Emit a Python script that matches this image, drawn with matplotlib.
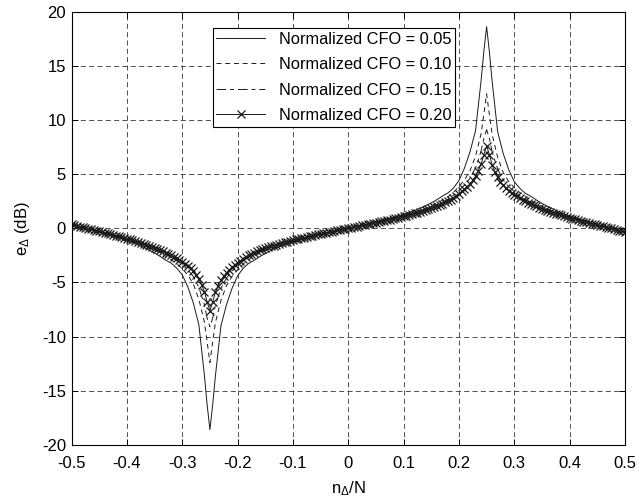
import numpy as np
import matplotlib.pyplot as plt

plt.rcParams['font.family'] = ['Liberation Sans', 'DejaVu Sans']
plt.rcParams['mathtext.fontset'] = 'custom'
plt.rcParams['mathtext.rm'] = 'Liberation Sans'
plt.rcParams['mathtext.it'] = 'Liberation Sans:italic'
plt.rcParams['axes.unicode_minus'] = False

# eje x: n_delta / N (paso 0.01, con puntos extra junto a los picos)
n_delta = np.concatenate([np.arange(-50, -25), [-25.5, -25, -24.5], np.arange(-24, 25),
                          [24.5, 25, 25.5], np.arange(26, 51)]) / 100
# la curva con marcadores tiene muestras mas densas (paso 0.005)
n_delta_fino = np.arange(-100, 101) / 200

# e_delta (dB), uno por CFO normalizado
cfo_005 = [0.35, 0.21, 0.06, -0.07, -0.21, -0.35, -0.50, -0.65, -0.80, -0.97, -1.14, -1.33, -1.54,
           -1.77, -2.02, -2.29, -2.60, -2.95, -3.22, -3.68, -4.30, -5.40, -6.90, -8.90, -13.55,
           -16.30, -18.60, -16.30,
           -13.60, -9.00, -7.05, -5.55, -4.40, -3.70, -3.25, -2.96, -2.63, -2.34, -2.08, -1.85,
           -1.64, -1.45, -1.28, -1.13, -0.98, -0.84, -0.71, -0.58, -0.47, -0.34, -0.23, -0.11,
           0.00, 0.11, 0.23, 0.34, 0.47, 0.58, 0.71, 0.84, 0.98, 1.13, 1.28, 1.45, 1.64, 1.85,
           2.08, 2.34, 2.63, 2.96, 3.25, 3.70, 4.40, 5.55, 7.05, 9.00, 13.60,
           16.30, 18.60, 16.30,
           13.55, 8.90, 6.90, 5.40, 4.30, 3.68, 3.22, 2.95, 2.60, 2.29, 2.02, 1.77, 1.54, 1.33,
           1.14, 0.97, 0.80, 0.65, 0.50, 0.35, 0.21, 0.07, -0.06, -0.21, -0.35]

cfo_010 = [0.35, 0.22, 0.07, -0.05, -0.18, -0.32, -0.45, -0.59, -0.73, -0.88, -1.03, -1.20, -1.38,
           -1.58, -1.79, -2.02, -2.28, -2.57, -2.90, -3.28, -3.75, -4.30, -5.15, -6.55, -8.65,
           -10.50, -12.40, -10.50,
           -8.70, -6.65, -5.30, -4.45, -3.85, -3.30, -2.90, -2.58, -2.31, -2.07, -1.85, -1.66,
           -1.48, -1.32, -1.17, -1.04, -0.91, -0.78, -0.66, -0.55, -0.44, -0.32, -0.22, -0.10,
           0.00, 0.10, 0.22, 0.32, 0.44, 0.55, 0.66, 0.78, 0.91, 1.04, 1.17, 1.32, 1.48, 1.66,
           1.85, 2.07, 2.31, 2.58, 2.90, 3.30, 3.85, 4.45, 5.30, 6.65, 8.70,
           10.50, 12.40, 10.50,
           8.65, 6.55, 5.15, 4.30, 3.75, 3.28, 2.90, 2.57, 2.28, 2.02, 1.79, 1.58, 1.38, 1.20,
           1.03, 0.88, 0.73, 0.59, 0.45, 0.32, 0.18, 0.05, -0.07, -0.22, -0.35]

cfo_015 = [0.35, 0.22, 0.08, -0.04, -0.17, -0.30, -0.43, -0.57, -0.70, -0.85, -0.99, -1.15, -1.32,
           -1.50, -1.69, -1.90, -2.13, -2.39, -2.67, -3.00, -3.38, -3.82, -4.45, -5.45, -7.05,
           -8.30, -9.10, -8.30,
           -7.10, -5.55, -4.60, -3.97, -3.48, -3.02, -2.67, -2.40, -2.16, -1.95, -1.75, -1.58,
           -1.42, -1.27, -1.13, -1.01, -0.88, -0.76, -0.64, -0.53, -0.43, -0.31, -0.21, -0.10,
           0.00, 0.10, 0.21, 0.31, 0.43, 0.53, 0.64, 0.76, 0.88, 1.01, 1.13, 1.27, 1.42, 1.58,
           1.75, 1.95, 2.16, 2.40, 2.67, 3.02, 3.48, 3.97, 4.60, 5.55, 7.10,
           8.30, 9.10, 8.30,
           7.05, 5.45, 4.45, 3.82, 3.38, 3.00, 2.67, 2.39, 2.13, 1.90, 1.69, 1.50, 1.32, 1.15,
           0.99, 0.85, 0.70, 0.57, 0.43, 0.30, 0.17, 0.04, -0.08, -0.22, -0.35]

cfo_020 = [0.35, 0.28, 0.22, 0.15, 0.08, 0.02, -0.04, -0.10, -0.16, -0.22,
           -0.29, -0.35, -0.42, -0.48, -0.55, -0.61, -0.68, -0.75, -0.82, -0.89,
           -0.96, -1.03, -1.11, -1.19, -1.27, -1.35, -1.44, -1.53, -1.62, -1.71,
           -1.81, -1.91, -2.02, -2.13, -2.25, -2.37, -2.50, -2.64, -2.78, -2.94,
           -3.10, -3.27, -3.45, -3.68, -3.95, -4.30, -4.70, -5.20, -5.85, -6.80,
           -7.60,
           -6.80, -5.90, -5.30, -4.80, -4.43, -4.10, -3.84, -3.60, -3.40,
           -3.20, -2.99, -2.80, -2.64, -2.50, -2.38, -2.26, -2.15, -2.05, -1.95,
           -1.86, -1.77, -1.68, -1.60, -1.52, -1.44, -1.37, -1.30, -1.23, -1.16,
           -1.10, -1.04, -0.98, -0.92, -0.86, -0.80, -0.74, -0.68, -0.63, -0.57,
           -0.52, -0.47, -0.42, -0.36, -0.31, -0.26, -0.21, -0.15, -0.10, -0.05,
           0.00, 0.05, 0.10, 0.15, 0.21, 0.26, 0.31, 0.36, 0.42, 0.47,
           0.52, 0.57, 0.63, 0.68, 0.74, 0.80, 0.86, 0.92, 0.98, 1.04,
           1.10, 1.16, 1.23, 1.30, 1.37, 1.44, 1.52, 1.60, 1.68, 1.77,
           1.86, 1.95, 2.05, 2.15, 2.26, 2.38, 2.50, 2.64, 2.80, 2.99,
           3.20, 3.40, 3.60, 3.84, 4.10, 4.43, 4.80, 5.30, 5.90, 6.80,
           7.60,
           6.80, 5.85, 5.20, 4.70, 4.30, 3.95, 3.68, 3.45, 3.27,
           3.10, 2.94, 2.78, 2.64, 2.50, 2.37, 2.25, 2.13, 2.02, 1.91,
           1.81, 1.71, 1.62, 1.53, 1.44, 1.35, 1.27, 1.19, 1.11, 1.03,
           0.96, 0.89, 0.82, 0.75, 0.68, 0.61, 0.55, 0.48, 0.42, 0.35,
           0.29, 0.22, 0.16, 0.10, 0.04, -0.02, -0.08, -0.15, -0.22, -0.28,
           -0.35]

etiquetas = ['Normalized CFO = 0.05', 'Normalized CFO = 0.10',
             'Normalized CFO = 0.15', 'Normalized CFO = 0.20']

x_ticks = [-0.5, -0.4, -0.3, -0.2, -0.1, 0, 0.1, 0.2, 0.3, 0.4, 0.5]
x_tick_labels = ['-0.5', '-0.4', '-0.3', '-0.2', '-0.1', '0', '0.1', '0.2', '0.3', '0.4', '0.5']
y_ticks = [-20, -15, -10, -5, 0, 5, 10, 15, 20]

fig = plt.figure(figsize=(6.39, 5.01), dpi=100)
ax = fig.add_axes([0.112, 0.112, 0.866, 0.865])

color = '#1a1a1a'
ax.plot(n_delta, cfo_005, '-', color=color, linewidth=0.7, label=etiquetas[0])
ax.plot(n_delta, cfo_010, '--', color=color, linewidth=0.7, dashes=(5, 4), label=etiquetas[1])
ax.plot(n_delta, cfo_015, '-.', color=color, linewidth=0.7, dashes=(10, 4, 4, 4), label=etiquetas[2])
ax.plot(n_delta_fino, cfo_020, '-x', color=color, linewidth=0.7, markersize=5.5,
        markeredgewidth=0.9, label=etiquetas[3])

ax.set_xlim(-0.5, 0.5)
ax.set_ylim(-20, 20)
ax.set_xticks(x_ticks)
ax.set_xticklabels(x_tick_labels)
ax.set_yticks(y_ticks)
ax.tick_params(direction='in', top=True, right=True, labelsize=12, length=4, width=0.7)
ax.tick_params(axis='x', pad=8)
ax.tick_params(axis='y', pad=4)
for s in ax.spines.values():
    s.set_linewidth(0.8)

# rejilla estilo MATLAB
ax.grid(True, color='#333333', linestyle=(0, (6, 4)), linewidth=0.6)

ax.set_xlabel(r'n$_{\Delta}$/N', fontsize=12, labelpad=6)
ax.set_ylabel(r'e$_{\Delta}$ (dB)', fontsize=12, labelpad=7)

leg = ax.legend(loc='upper left', bbox_to_anchor=(0.255, 0.962), fontsize=11.8, frameon=True,
                fancybox=False, framealpha=1, edgecolor='black', handlelength=3.0,
                handletextpad=0.8, labelspacing=0.64, borderpad=0.22, borderaxespad=0)
leg.get_frame().set_linewidth(0.8)

fig.savefig('out.png', dpi=100)
